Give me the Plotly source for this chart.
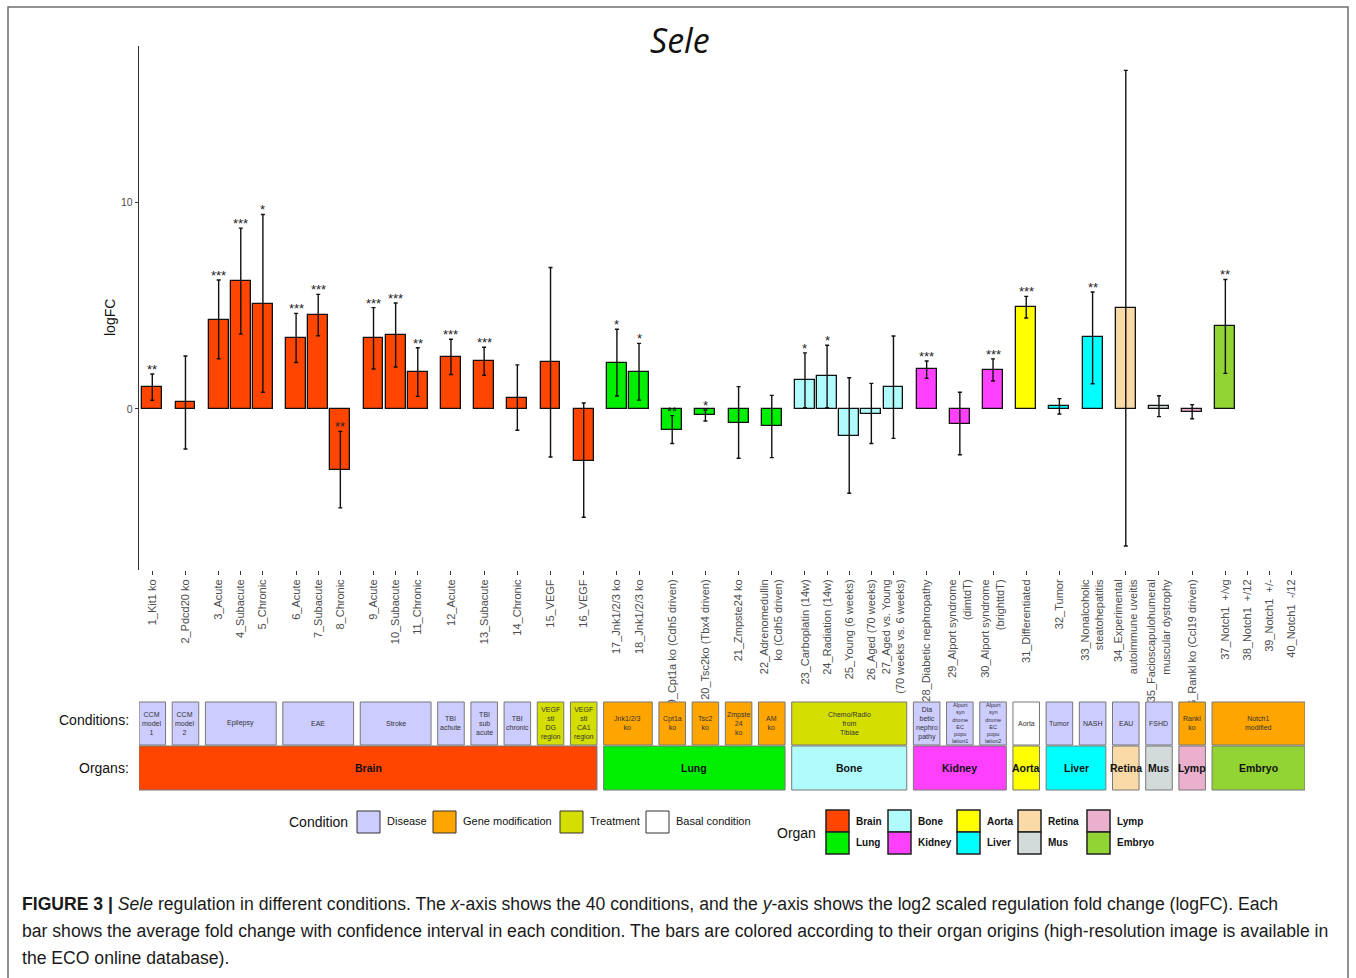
import plotly.graph_objects as go

# ---------------- data ----------------
labels = [
    "1_Kit1 ko", "2_Pdcd20 ko", "3_Acute", "4_Subacute", "5_Chronic",
    "6_Acute", "7_Subacute", "8_Chronic", "9_Acute", "10_Subacute",
    "11_Chronic", "12_Acute", "13_Subacute", "14_Chronic", "15_VEGF",
    "16_VEGF", "17_Jnk1/2/3 ko", "18_Jnk1/2/3 ko", "19_Cpt1a ko (Cdh5 driven)",
    "20_Tsc2ko (Tbx4 driven)", "21_Zmpste24 ko", "22_Adrenomedullin<br>ko (Cdh5 driven)",
    "23_Carboplatin (14w)", "24_Radiation (14w)", "25_Young (6 weeks)",
    "26_Aged (70 weeks)", "27_Aged vs. Young<br>(70 weeks vs. 6 weeks)",
    "28_Diabetic nephropathy", "29_Alport syndrome<br>(dimtdT)",
    "30_Alport syndrome<br>(brighttdT)", "31_Differentiated", "32_Tumor",
    "33_Nonalcoholic<br>steatohepatitis", "34_Experimental<br>autoimmune uveitis",
    "35_Facioscapulohumeral<br>muscular dystrophy", "36_Rankl ko (Ccl19 driven)",
    "37_Notch1\u00a0\u00a0+/vg", "38_Notch1\u00a0\u00a0+/12", "39_Notch1\u00a0\u00a0+/-",
    "40_Notch1\u00a0\u00a0-/12",
]

logfc = [1.05, 0.32, 4.32, 6.20, 5.09, 3.43, 4.54, -2.95, 3.41, 3.57,
         1.79, 2.53, 2.32, 0.55, 2.25, -2.50, 2.24, 1.79, -1.01, -0.31,
         -0.66, -0.84, 1.40, 1.58, -1.29, -0.24, 1.05, 1.92, -0.71, 1.88,
         4.93, 0.13, 3.46, 4.86, 0.14, -0.15, 3.99, None, None, None]

ci_low = [0.42, -1.93, 2.43, 3.62, 0.81, 2.25, 3.54, -4.78, 1.93, 2.03,
          0.61, 1.67, 1.63, -1.03, -2.32, -5.23, 0.63, 0.43, -1.67, -0.58,
          -2.38, -2.35, 0.06, 0.06, -4.07, -1.67, -1.42, 1.48, -2.21, 1.35,
          4.40, -0.24, 1.22, -6.62, -0.37, -0.47, 1.72, None, None, None]

ci_high = [1.69, 2.56, 6.23, 8.74, 9.40, 4.62, 5.54, -1.08, 4.90, 5.12,
           2.96, 3.37, 2.98, 2.13, 6.84, 0.29, 3.85, 3.17, -0.32, -0.05,
           1.08, 0.66, 2.71, 3.08, 1.51, 1.24, 3.53, 2.32, 0.81, 2.42,
           5.44, 0.50, 5.65, 16.36, 0.64, 0.21, 6.26, None, None, None]

stars = ["**", "", "***", "***", "*", "***", "***", "**", "***", "***",
         "**", "***", "***", "", "", "", "*", "*", "**", "*",
         "", "", "*", "*", "", "", "", "***", "", "***",
         "***", "", "**", "", "", "", "**", "", "", ""]

organs = (["Brain"] * 16 + ["Lung"] * 6 + ["Bone"] * 5 + ["Kidney"] * 3 +
          ["Aorta"] + ["Liver"] * 2 + ["Retina"] + ["Mus"] + ["Lymp"] +
          ["Embryo"] * 4)

conditions = (
    ["CCM<br>model<br>1", "CCM<br>model<br>2"] + ["Epilepsy"] * 3 + ["EAE"] * 3 +
    ["Stroke"] * 3 + ["TBI<br>achute", "TBI<br>sub<br>acute", "TBI<br>chronic",
                      "VEGF<br>sti<br>DG<br>region", "VEGF<br>sti<br>CA1<br>region"] +
    ["Jnk1/2/3<br>ko"] * 2 + ["Cpt1a<br>ko", "Tsc2<br>ko", "Zmpste<br>24<br>ko", "AM<br>ko"] +
    ["Chemo/Radio<br>from<br>Tibiae"] * 5 +
    ["Dia<br>betic<br>nephro<br>pathy", "Alport<br>syn<br>drome<br>EC<br>popu<br>lation1",
     "Alport<br>syn<br>drome<br>EC<br>popu<br>lation2", "Aorta", "Tumor", "NASH", "EAU",
     "FSHD", "Rankl<br>ko"] + ["Notch1<br>modified"] * 4
)

condition_types = (["Disease"] * 14 + ["Treatment"] * 2 + ["Gene modification"] * 6 +
                   ["Treatment"] * 5 + ["Disease"] * 3 + ["Basal condition"] +
                   ["Disease"] * 4 + ["Gene modification"] * 5)

organ_colors = {
    "Brain": "#FF4500", "Lung": "#00EE00", "Bone": "#B0FCFC", "Kidney": "#FF40FF",
    "Aorta": "#FFFF00", "Liver": "#00FFFF", "Retina": "#FADAA6", "Mus": "#D2DADA",
    "Lymp": "#EAB0CE", "Embryo": "#92D434",
}
condition_colors = {
    "Disease": "#CCCCFF", "Gene modification": "#FFA500",
    "Treatment": "#D4DE00", "Basal condition": "#FFFFFF",
}

# ---------------- layout helpers ----------------
W, H = 1356, 978
L, R, T, B = 139, 1305, 46, 570          # plot panel in pixels
XMIN, XMAX = -0.6, 52.1
YMIN, YMAX = -7.78, 17.54


def px(xp):
    return (xp - L) / (R - L)


def py(yp):
    return (B - yp) / (B - T)


# bar positions: step 1 inside a condition, 1.5 between conditions
positions = []
for i, c in enumerate(conditions):
    if i == 0:
        positions.append(0.0)
    else:
        positions.append(positions[-1] + (1.0 if c == conditions[i - 1] else 1.5))


def runs(keys):
    out = []
    start = 0
    for i in range(1, len(keys) + 1):
        if i == len(keys) or keys[i] != keys[start]:
            out.append((keys[start], start, i - 1))
            start = i
    return out


FONT = "Liberation Sans, Arial, sans-serif"


def note(xp, yp, text, size, xanchor="center", color="#111111", family=FONT, **kw):
    """Text placed by pixel position, centred vertically."""
    return dict(x=px(xp), y=py(yp), xref="paper", yref="paper", text=text,
                showarrow=False, xanchor=xanchor, yanchor="middle",
                font=dict(family=family, size=size, color=color), **kw)


fig = go.Figure()

idx = [i for i, v in enumerate(logfc) if v is not None]
fig.add_trace(go.Bar(
    x=[positions[i] for i in idx],
    y=[logfc[i] for i in idx],
    width=0.9,
    marker=dict(color=[organ_colors[organs[i]] for i in idx],
                line=dict(color="#111111", width=1.3)),
    error_y=dict(type="data", symmetric=False,
                 array=[ci_high[i] - logfc[i] for i in idx],
                 arrayminus=[logfc[i] - ci_low[i] for i in idx],
                 color="#111111", thickness=1.4, width=2),
    showlegend=False, hoverinfo="skip",
))

annotations = []
shapes = []

# significance stars
for i in idx:
    if stars[i]:
        annotations.append(dict(x=positions[i], y=ci_high[i], xref="x", yref="y",
                                text=stars[i], showarrow=False, xanchor="center",
                                yanchor="bottom", yshift=-5,
                                font=dict(family=FONT, size=13, color="#222222")))

# condition strip and organ strip
C_TOP, C_BOT, O_TOP, O_BOT = 702, 745, 746, 790
for name, a, b in runs(conditions):
    x0, x1 = positions[a] - 0.6, positions[b] + 0.6
    shapes.append(dict(type="rect", xref="x", yref="paper", x0=x0, x1=x1,
                       y0=py(C_BOT), y1=py(C_TOP),
                       fillcolor=condition_colors[condition_types[a]],
                       line=dict(color="#777777", width=1)))
    nlines = name.count("<br>") + 1
    size = 7 if nlines <= 4 else 5.6
    annotations.append(dict(x=(x0 + x1) / 2, y=py(723), xref="x", yref="paper",
                            text=name, showarrow=False, align="center",
                            xanchor="center", yanchor="middle",
                            font=dict(family=FONT, size=size, color="#333333")))
for name, a, b in runs(organs):
    x0, x1 = positions[a] - 0.6, positions[b] + 0.6
    shapes.append(dict(type="rect", xref="x", yref="paper", x0=x0, x1=x1,
                       y0=py(O_BOT), y1=py(O_TOP), fillcolor=organ_colors[name],
                       line=dict(color="#777777", width=1)))
    annotations.append(dict(x=(x0 + x1) / 2, y=py(768), xref="x", yref="paper",
                            text="<b>" + name + "</b>", showarrow=False,
                            xanchor="center", yanchor="middle",
                            font=dict(family=FONT, size=10.5, color="#111111")))

annotations.append(note(131, 720, "Conditions:", 14, xanchor="right"))
annotations.append(note(131, 768, "Organs:", 14, xanchor="right"))

# legends
annotations.append(note(350, 822, "Condition", 14, xanchor="right"))
cond_leg = [("Disease", 357), ("Gene modification", 433), ("Treatment", 560),
            ("Basal condition", 646)]
for name, x0 in cond_leg:
    shapes.append(dict(type="rect", xref="paper", yref="paper", x0=px(x0), x1=px(x0 + 23),
                       y0=py(833), y1=py(811), fillcolor=condition_colors[name],
                       line=dict(color="#333333", width=1)))
    annotations.append(note(x0 + 28, 821, name, 11, xanchor="left"))

annotations.append(note(818, 833, "Organ", 14, xanchor="right"))
org_cols = [(826, "Brain", "Lung"), (888, "Bone", "Kidney"), (957, "Aorta", "Liver"),
            (1018, "Retina", "Mus"), (1087, "Lymp", "Embryo")]
for x0, top, bot in org_cols:
    for name, y0, y1 in ((top, 810, 832), (bot, 832, 854)):
        shapes.append(dict(type="rect", xref="paper", yref="paper", x0=px(x0), x1=px(x0 + 23),
                           y0=py(y1), y1=py(y0), fillcolor=organ_colors[name],
                           line=dict(color="#222222", width=1.5)))
        annotations.append(note(x0 + 28, (y0 + y1) / 2, "<b>" + name + "</b>", 10,
                                xanchor="left"))

# title and axis title
annotations.append(note(680, 40, "<i>Sele</i>", 34, family="Open Sans, sans-serif"))
annotations.append(note(110, 318, "logFC", 14, textangle=-90))

# caption
caption = [
    "<b>FIGURE 3 |</b> <i>Sele</i> regulation in different conditions. The <i>x</i>-axis shows the 40 "
    "conditions, and the <i>y</i>-axis shows the log2 scaled regulation fold change (logFC). Each",
    "bar shows the average fold change with confidence interval in each condition. The bars are "
    "colored according to their organ origins (high-resolution image is available in",
    "the ECO online database).",
]
for k, line in enumerate(caption):
    annotations.append(note(20, 904 + 27 * k, line, 17.6, xanchor="left", color="#1a1a1a"))

# outer frame
shapes.append(dict(type="rect", xref="paper", yref="paper", x0=px(8), x1=px(1348),
                   y0=py(995), y1=py(7), line=dict(color="#6d6d6d", width=1.5),
                   fillcolor="rgba(0,0,0,0)"))

fig.update_layout(
    width=W, height=H, autosize=False,
    margin=dict(l=L, r=W - R, t=T, b=H - B, pad=0),
    paper_bgcolor="white", plot_bgcolor="white",
    bargap=0, showlegend=False,
    shapes=shapes, annotations=annotations,
    xaxis=dict(range=[XMIN, XMAX], showgrid=False, zeroline=False, showline=False,
               tickmode="array", tickvals=positions, ticktext=labels, tickangle=-90,
               ticks="outside", ticklen=4, tickcolor="#333333", tickwidth=1,
               tickfont=dict(family=FONT, size=11, color="#4D4D4D")),
    yaxis=dict(range=[YMIN, YMAX], showgrid=False, zeroline=False, showline=True,
               linecolor="#333333", linewidth=1.4, tickmode="array", tickvals=[0, 10],
               ticktext=["0", "10"], ticks="outside", ticklen=3, tickcolor="#333333",
               tickfont=dict(family=FONT, size=10.5, color="#4D4D4D")),
)

fig.write_html("out.html")
